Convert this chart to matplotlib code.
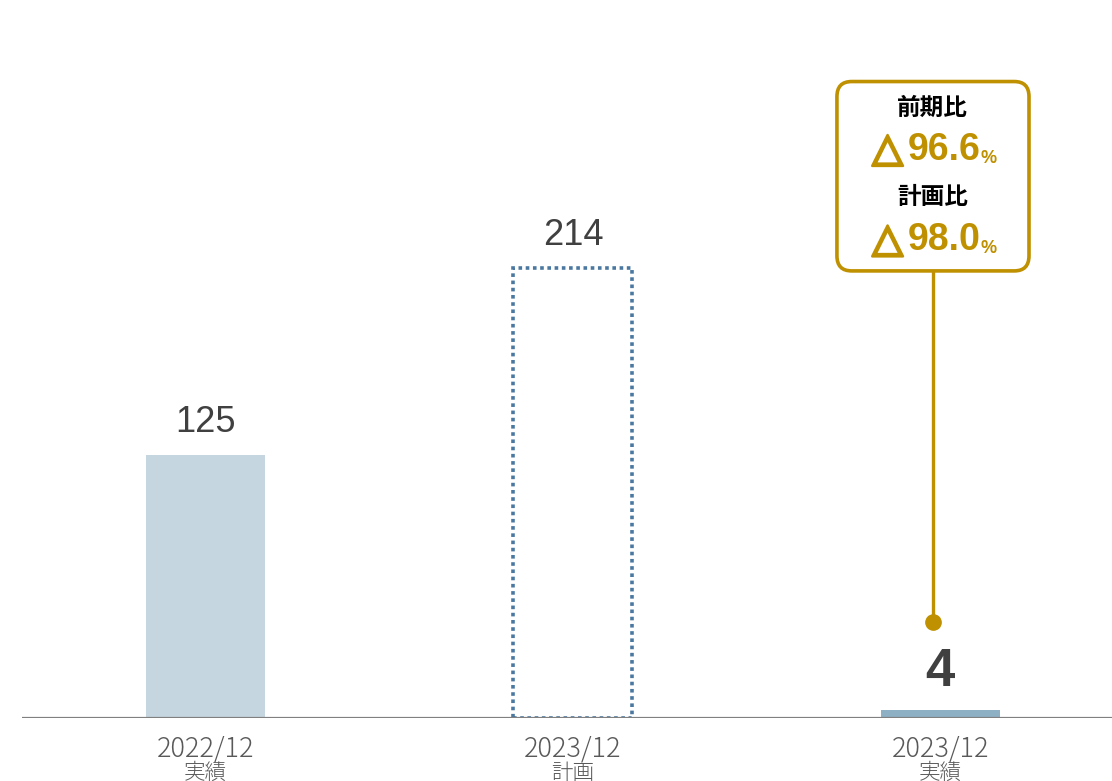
import matplotlib.pyplot as plt
import matplotlib.patheffects as pe
from matplotlib.patches import FancyBboxPatch

# data
categories = ["2022/12\n実績", "2023/12\n計画", "2023/12\n実績"]
values = [125, 214, 4]
yoy_label = "前期比"
yoy_value = "96.6"
plan_label = "計画比"
plan_value = "98.0"

GOLD = "#BF9000"
DARK = "#404040"
NUM_FONT = ["Liberation Sans", "Noto Sans CJK JP", "DejaVu Sans"]
JP_FONT = ["Noto Sans CJK JP", "DejaVu Sans"]

fig = plt.figure(figsize=(11.12, 7.81), dpi=100)
ax = fig.add_axes([22 / 1112, 63 / 781, 1090 / 1112, 718 / 781])
ax.set_xlim(-0.5, 2.468)
ax.set_ylim(0, 718 / 2.104)
ax.axis("off")

x = list(range(len(values)))
w = 0.324

ax.bar(x[0], values[0], width=w, color="#C6D6E0", zorder=2)
ax.bar(x[1], values[1], width=w, facecolor="none", edgecolor="#4A78A0",
       linewidth=2.6, linestyle=(0, (1, 1)), zorder=2)
ax.bar(x[2], values[2], width=w, color="#8EB0C5", zorder=2)

# baseline
ax.axhline(0, color="#808080", linewidth=1.6, zorder=3)

# value labels
for i in (0, 1):
    ax.text(x[i], values[i] + 7, str(values[i]), ha="center", va="bottom",
            fontsize=26, color=DARK, family=NUM_FONT)
ax.text(x[2], values[2] + 6, str(values[2]), ha="center", va="bottom",
        fontsize=38, fontweight="bold", color=DARK, family=NUM_FONT)

# category labels
for i, lab in enumerate(categories):
    top, bottom = lab.split("\n")
    ax.text(x[i], -8, top, ha="center", va="top", fontsize=19.5,
            fontweight="light", color="#595959", family=JP_FONT)
    ax.text(x[i], -21, bottom, ha="center", va="top", fontsize=15.5,
            fontweight="light", color="#595959", family=JP_FONT)

# callout
cx = x[2] - 0.02
box_l, box_r = 1.719, 2.242
box_b, box_t = 212.5, 302.5
ax.plot([cx, cx], [45.6, box_b], color=GOLD, linewidth=2.4, zorder=4)
ax.plot(cx, 45.6, "o", color=GOLD, markersize=11, zorder=5)
box = FancyBboxPatch((box_l, box_b), box_r - box_l, box_t - box_b,
                     boxstyle="round,pad=0,rounding_size=0.04",
                     mutation_aspect=180, facecolor="white", edgecolor=GOLD,
                     linewidth=2.6, zorder=5)
ax.add_patch(box)

split = 2.111
tri_x = 1.857
for lab, val, ly, vy in [(yoy_label, yoy_value, 290, 270),
                         (plan_label, plan_value, 247.5, 227)]:
    ax.text(cx, ly, lab, ha="center", va="center", fontsize=17,
            fontweight="bold", color="black", family=JP_FONT, zorder=6)
    ax.text(tri_x, vy, "△", ha="center", va="center", fontsize=29,
            color=GOLD, family=["DejaVu Sans"], zorder=6,
            path_effects=[pe.withStroke(linewidth=1.8, foreground=GOLD)])
    ax.text(split, vy, val, ha="right", va="center", fontsize=27,
            fontweight="bold", color=GOLD, family=NUM_FONT, zorder=6)
    ax.text(split, vy - 4, "%", ha="left", va="center", fontsize=13,
            fontweight="bold", color=GOLD, family=NUM_FONT, zorder=6)

fig.savefig("out.png", dpi=100)
